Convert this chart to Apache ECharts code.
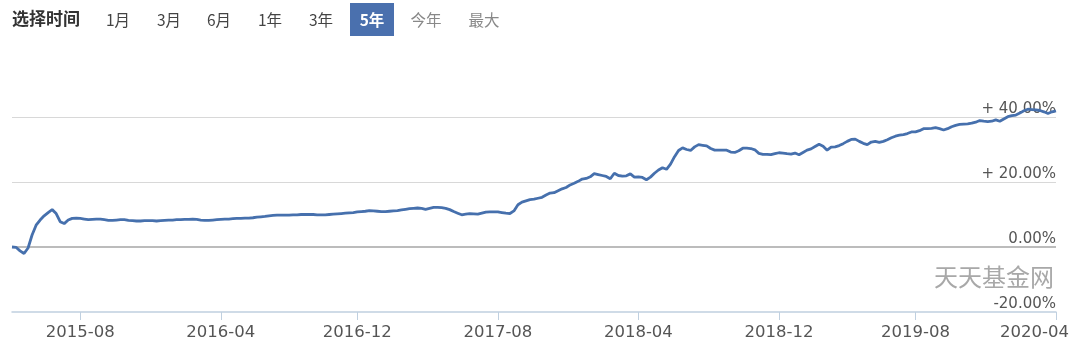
<!DOCTYPE html>
<html>
<head>
<meta charset="utf-8">
<script src="https://cdn.jsdelivr.net/npm/echarts@6/dist/echarts.min.js"></script>
<style>
html,body{margin:0;padding:0;background:#fff;}
#chart{width:1084px;height:358px;}
</style>
</head>
<body>
<div id="chart"></div>
<script>
// Weekly cumulative return (%) from 2015-04-09 to 2020-04-02
const firstDate = '2015-04-09';
const returnValues = [
 0.0,-0.1,-1.2,-2.0,-0.3,3.7,6.7,8.3,9.6,10.6,
 11.5,10.3,7.8,7.2,8.3,8.8,8.9,8.8,8.6,8.4,
 8.5,8.6,8.6,8.4,8.2,8.2,8.3,8.4,8.4,8.2,
 8.1,8.0,8.0,8.1,8.1,8.1,8.0,8.1,8.2,8.3,
 8.3,8.4,8.4,8.5,8.5,8.6,8.5,8.3,8.2,8.2,
 8.3,8.4,8.5,8.6,8.6,8.7,8.8,8.8,8.9,8.9,
 9.0,9.2,9.3,9.4,9.6,9.7,9.8,9.8,9.8,9.8,
 9.9,9.9,10.0,10.0,10.0,10.0,9.9,9.9,9.9,10.0,
 10.1,10.2,10.3,10.4,10.5,10.6,10.8,10.9,11.0,11.2,
 11.1,11.0,10.9,10.9,11.0,11.1,11.2,11.4,11.6,11.8,
 11.9,12.0,11.9,11.6,11.9,12.2,12.2,12.1,11.9,11.5,
 10.9,10.4,9.9,10.1,10.3,10.2,10.1,10.4,10.7,10.8,
 10.8,10.8,10.6,10.4,10.3,11.1,13.0,13.8,14.2,14.6,
 14.7,15.0,15.3,16.0,16.6,16.7,17.3,17.9,18.3,19.1,
 19.6,20.2,20.9,21.1,21.6,22.6,22.3,22.0,21.7,21.0,
 22.7,22.0,21.8,21.9,22.5,21.5,21.6,21.4,20.7,21.5,
 22.7,23.7,24.4,23.9,25.5,27.8,29.7,30.5,30.0,29.7,
 30.8,31.5,31.3,31.1,30.3,29.8,29.8,29.8,29.8,29.2,
 29.1,29.6,30.4,30.4,30.3,29.9,28.8,28.5,28.5,28.4,
 28.7,29.0,28.9,28.7,28.6,28.9,28.4,29.1,29.8,30.2,
 30.9,31.6,31.0,29.8,30.7,30.8,31.2,31.8,32.5,33.1,
 33.2,32.5,31.9,31.5,32.3,32.5,32.2,32.5,33.0,33.6,
 34.1,34.4,34.6,34.9,35.4,35.4,35.8,36.4,36.4,36.5,
 36.7,36.4,36.0,36.4,37.0,37.4,37.7,37.8,37.9,38.1,
 38.4,38.9,38.7,38.6,38.7,39.1,38.7,39.4,40.1,40.4,
 40.6,41.2,41.9,42.4,42.3,42.2,42.0,41.6,41.1,41.6,
 41.9
];
const xTickLabels = ['2015-08','2016-04','2016-12','2017-08','2018-04','2018-12','2019-08','2020-04'];
const yTickValues = [-20, 0, 20, 40];
const periodButtons = ['1月','3月','6月','1年','3年','5年','今年','最大'];
const selectedButton = '5年';
const watermark = '天天基金网';

// weekly category dates
const dates = [];
(function(){
  const p = firstDate.split('-').map(Number);
  let t = Date.UTC(p[0], p[1]-1, p[2]);
  for (let i = 0; i < returnValues.length; i++) {
    const d = new Date(t);
    const s = d.getUTCFullYear() + '-' + String(d.getUTCMonth()+1).padStart(2,'0') + '-' + String(d.getUTCDate()).padStart(2,'0');
    dates.push(s);
    t += 7 * 86400000;
  }
})();
function isLabelIdx(idx) {
  const ym = dates[idx].slice(0,7);
  if (xTickLabels.indexOf(ym) < 0) return false;
  return idx === 0 || dates[idx-1].slice(0,7) !== ym;
}

const chart = echarts.init(document.getElementById('chart'), null, {renderer:'canvas'});

const btnX = [118, 169, 219, 270, 321, 372, 426, 484];
const graphics = [
  {type:'text', left: 12, top: 10, style:{text:'选择时间', fontSize:17, fontWeight:'bold', fill:'#333', fontFamily:'"Noto Sans CJK SC"'}},
];
periodButtons.forEach(function(b, i){
  if (b === selectedButton) {
    graphics.push({type:'rect', shape:{x:350, y:3, width:44, height:33}, style:{fill:'#4a70ae'}});
  }
  graphics.push({type:'text', x: btnX[i], y: 20, style:{text:b, fontSize:15.5, fontWeight: b===selectedButton?'bold':'normal',
    fill: b===selectedButton ? '#fff' : (i >= 6 ? '#888' : '#444'), align:'center', verticalAlign:'middle', fontFamily:'"Noto Sans CJK SC"'}});
});
graphics.push({type:'text', x: 994, y: 277, z: 0, style:{text:watermark, fontSize:24, fill:'#a8a8a8', align:'center', verticalAlign:'middle', fontFamily:'"Noto Sans CJK SC"'}});

chart.setOption({
  animation: false,
  backgroundColor: '#fff',
  graphic: graphics,
  grid: {left: 12, right: 28, top: 52, bottom: 46, containLabel: false},
  xAxis: {
    type: 'category',
    data: dates,
    boundaryGap: false,
    axisLine: {show: true, onZero: false, lineStyle: {color: '#c0d0e0', width: 1.5}},
    axisTick: {show: true, length: 8, interval: function(i){ return isLabelIdx(i); }, lineStyle: {color: '#c0d0e0'}},
    axisLabel: {
      interval: function(i){ return isLabelIdx(i); },
      formatter: function(v, i){ const ym = v.slice(0,7); return i === dates.length - 1 ? '{last|' + ym + '}' : ym; },
      color: '#555', fontSize: 16.5, fontFamily: '"DejaVu Sans"', margin: 12,
      rich: {last: {width: 112, align: 'left', color: '#555', fontSize: 16.5, fontFamily: '"DejaVu Sans"'}}
    },
    splitLine: {show: false}
  },
  yAxis: {
    type: 'value',
    position: 'right',
    min: -20, max: 60, interval: 20,
    axisLine: {show: false},
    axisTick: {show: false},
    axisLabel: {
      inside: true, margin: 0, verticalAlign: 'bottom',
      color: '#555', fontSize: 15, fontFamily: '"DejaVu Sans"',
      formatter: function(v){
        if (yTickValues.indexOf(v) < 0) return '';
        return (v > 0 ? '+ ' : '') + v.toFixed(2) + '%';
      }
    },
    splitLine: {show: true, showMinLine: false, showMaxLine: false, lineStyle: {color: '#d8d8d8', width: 1}}
  },
  series: [{
    type: 'line',
    data: returnValues,
    showSymbol: false,
    symbol: 'none',
    lineStyle: {color: '#4670ad', width: 2.8},
    itemStyle: {color: '#4670ad'},
    z: 3,
    markLine: {
      silent: true, symbol: 'none', label: {show: false},
      lineStyle: {color: '#bcbcbc', width: 2, type: 'solid'},
      data: [{yAxis: 0}],
      z: 1
    }
  }]
});
</script>
</body>
</html>
